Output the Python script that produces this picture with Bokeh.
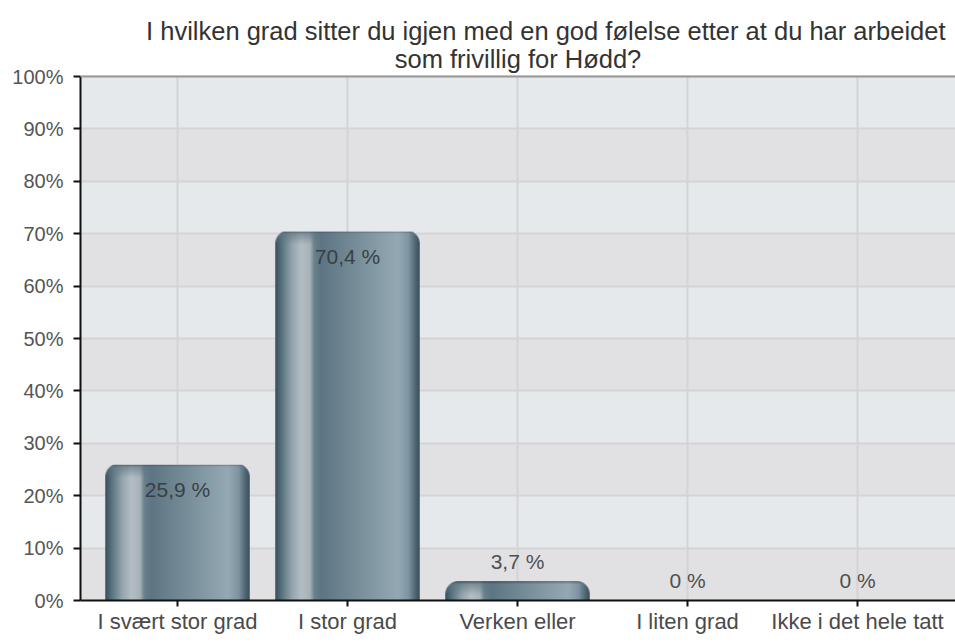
import numpy as np
from bokeh.plotting import figure
from bokeh.models import (Range1d, FixedTicker, PrintfTickFormatter, ColumnDataSource, Span,
                          BoxAnnotation)
from bokeh.core.properties import value
from bokeh.embed import file_html
from bokeh.resources import INLINE

# ---------------- data ----------------
title_lines = ["I hvilken grad sitter du igjen med en god følelse etter at du har arbeidet",
               "som frivillig for Hødd?"]
categories = ["I svært stor grad", "I stor grad", "Verken eller", "I liten grad", "Ikke i det hele tatt"]
percent = [25.9, 70.4, 3.7, 0.0, 0.0]
y_ticks = [0, 10, 20, 30, 40, 50, 60, 70, 80, 90, 100]

# ---------------- style ----------------
FONT = "Liberation Sans"
FIG_W, FIG_H = 955, 640
LEFT, BOTTOM = 80, 40
TITLE_SPACE = 76          # px above the 100 % line reserved for the title
BAR_W = 0.85
PX_PER_UNIT_X = 170.0
GRID_COLOR = "#d4d4d6"

xs = list(range(len(categories)))
x_start = -97.0 / PX_PER_UNIT_X
x_end = x_start + (FIG_W - LEFT) / PX_PER_UNIT_X

frame_h = FIG_H - BOTTOM
plot_h = frame_h - TITLE_SPACE          # px for 0..100 %
px_per_pct = plot_h / 100.0
y_end = 100.0 * frame_h / plot_h
y_top = y_ticks[-1]

p = figure(width=FIG_W, height=FIG_H,
           x_range=Range1d(x_start, x_end), y_range=Range1d(0, y_end),
           output_backend="svg", toolbar_location=None,
           min_border_left=LEFT, min_border_right=0, min_border_bottom=BOTTOM,
           min_border_top=0,
           background_fill_color="white", border_fill_color="white",
           outline_line_color=None)

# plot-area background (0..100 %) below the grid bands
p.add_layout(BoxAnnotation(bottom=0, top=y_top, fill_color="#e1e1e3", fill_alpha=1.0,
                           line_color=None, level="image"))

# horizontal grid with alternating bands
p.ygrid.ticker = FixedTicker(ticks=y_ticks)
p.ygrid.grid_line_color = GRID_COLOR
p.ygrid.grid_line_width = 2
p.ygrid.band_fill_color = "#e6e9ec"
p.ygrid.band_fill_alpha = 1.0
p.xgrid.grid_line_color = None

# vertical grid lines at the category centres, limited to the plot area
p.segment(x0=xs, y0=[0] * len(xs), x1=xs, y1=[y_top] * len(xs),
          line_color=GRID_COLOR, line_width=2)

# axes
p.yaxis.ticker = FixedTicker(ticks=y_ticks)
p.yaxis.bounds = (0, y_top)
p.yaxis.formatter = PrintfTickFormatter(format="%d%%")
p.yaxis.axis_line_color = "#111111"
p.yaxis.axis_line_width = 2
p.yaxis.major_tick_line_color = "#111111"
p.yaxis.major_tick_line_width = 2
p.yaxis.major_tick_out = 7
p.yaxis.major_tick_in = 0
p.yaxis.minor_tick_line_color = None
p.yaxis.major_label_standoff = 10
p.yaxis.major_label_text_font = FONT
p.yaxis.major_label_text_font_size = "20px"
p.yaxis.major_label_text_color = "#555555"

p.xaxis.ticker = FixedTicker(ticks=xs)
p.xaxis.major_label_overrides = {i: c for i, c in enumerate(categories)}
p.xaxis.axis_line_color = "#111111"
p.xaxis.axis_line_width = 2
p.xaxis.major_tick_line_color = "#111111"
p.xaxis.major_tick_line_width = 2
p.xaxis.major_tick_out = 6
p.xaxis.major_tick_in = 0
p.xaxis.minor_tick_line_color = None
p.xaxis.major_label_standoff = 2
p.xaxis.major_label_text_font = FONT
p.xaxis.major_label_text_font_size = "22px"
p.xaxis.major_label_text_color = "#4a4a4a"

# top border of plot area
p.add_layout(Span(location=y_top, dimension="width", line_color="#9a9a9a", line_width=2))

# two-line title, placed relative to the top of the plot area
p.text(x=[x_end], y=[y_top], text=[title_lines[0]], x_offset=-10, y_offset=-46,
       text_align="right", text_baseline="middle", text_font=value(FONT),
       text_font_size="25.5px", text_color="#333333")
p.text(x=[(x_start + x_end) / 2], y=[y_top], text=[title_lines[1]], y_offset=-18,
       text_align="center", text_baseline="middle", text_font=value(FONT),
       text_font_size="25.5px", text_color="#333333")

# ---------------- cylinder-shaded bars (images built from the data) ----------------
def hex2rgb(h):
    return [int(h[i:i + 2], 16) for i in (1, 3, 5)]

stops = [
    (0.00, "#3a4f5c"), (0.04, "#55707c"), (0.12, "#97a7af"), (0.18, "#b4bfc5"),
    (0.24, "#a7b3b9"), (0.27, "#6a818d"), (0.32, "#5e7684"), (0.60, "#7b929d"),
    (0.85, "#94a9b4"), (0.92, "#8096a2"), (0.97, "#506673"), (1.00, "#3a4f5c"),
]
stop_pos = [s[0] for s in stops]
stop_rgb = np.array([hex2rgb(s[1]) for s in stops], dtype=float)

img_w = int(round(BAR_W * PX_PER_UNIT_X))
radius = 13.0

def bar_image(val):
    h = max(int(round(val * px_per_pct)), 1)
    u = (np.arange(img_w) + 0.5) / img_w
    prof = np.stack([np.interp(u, stop_pos, stop_rgb[:, c]) for c in range(3)], axis=1)
    rgb = np.repeat(prof[None, :, :], h, axis=0)  # row 0 = top
    d = np.arange(h)[:, None] + 0.5
    cap_col = np.array(hex2rgb("#5f7683"), dtype=float)
    w_cap = np.clip(1 - d / 14.0, 0, 1) * (u[None, :] < 0.32)
    rgb = rgb * (1 - w_cap[..., None] * 0.8) + cap_col * (w_cap[..., None] * 0.8)
    rim = np.clip(1 - d / 3.0, 0, 1)
    rgb = rgb * (1 - 0.35 * rim[..., None])
    cx = np.arange(img_w)[None, :] + 0.5
    alpha = np.ones((h, img_w))
    for left_corner, ccx in ((True, radius), (False, img_w - radius)):
        dx = np.clip(ccx - cx, 0, None) if left_corner else np.clip(cx - ccx, 0, None)
        dy = np.clip(radius - d, 0, None)
        dist = np.sqrt(dx ** 2 + dy ** 2)
        alpha = np.minimum(alpha, np.clip(radius - dist + 0.5, 0, 1))
    img = np.empty((h, img_w), dtype=np.uint32)
    view = img.view(dtype=np.uint8).reshape((h, img_w, 4))
    view[..., 0] = rgb[..., 0].astype(np.uint8)
    view[..., 1] = rgb[..., 1].astype(np.uint8)
    view[..., 2] = rgb[..., 2].astype(np.uint8)
    view[..., 3] = (alpha * 255).astype(np.uint8)
    return np.flipud(img).copy()

imgs, ix, idw, idh = [], [], [], []
for x, v in zip(xs, percent):
    if v > 0:
        imgs.append(bar_image(v))
        ix.append(x - BAR_W / 2)
        idw.append(BAR_W)
        idh.append(v)
p.image_rgba(image="image", x="x", y=0, dw="dw", dh="dh",
             source=ColumnDataSource(dict(image=imgs, x=ix, dw=idw, dh=idh)))

# ---------------- value labels ----------------
def fmt(v):
    return "0 %" if v == 0 else f"{v:.1f}".replace(".", ",") + " %"

labels = [fmt(v) for v in percent]
inside = [v >= 10 for v in percent]
src_in = ColumnDataSource(dict(x=[x for x, k in zip(xs, inside) if k],
                               y=[v for v, k in zip(percent, inside) if k],
                               t=[t for t, k in zip(labels, inside) if k]))
src_out = ColumnDataSource(dict(x=[x for x, k in zip(xs, inside) if not k],
                                y=[v for v, k in zip(percent, inside) if not k],
                                t=[t for t, k in zip(labels, inside) if not k]))
p.text(x="x", y="y", text="t", source=src_in, y_offset=25, text_align="center",
       text_baseline="middle", text_font=value(FONT), text_font_size="21px", text_color="#3a3f44")
p.text(x="x", y="y", text="t", source=src_out, y_offset=-20, text_align="center",
       text_baseline="middle", text_font=value(FONT), text_font_size="21px", text_color="#505050")

open("out.html", "w").write(file_html(p, INLINE))
